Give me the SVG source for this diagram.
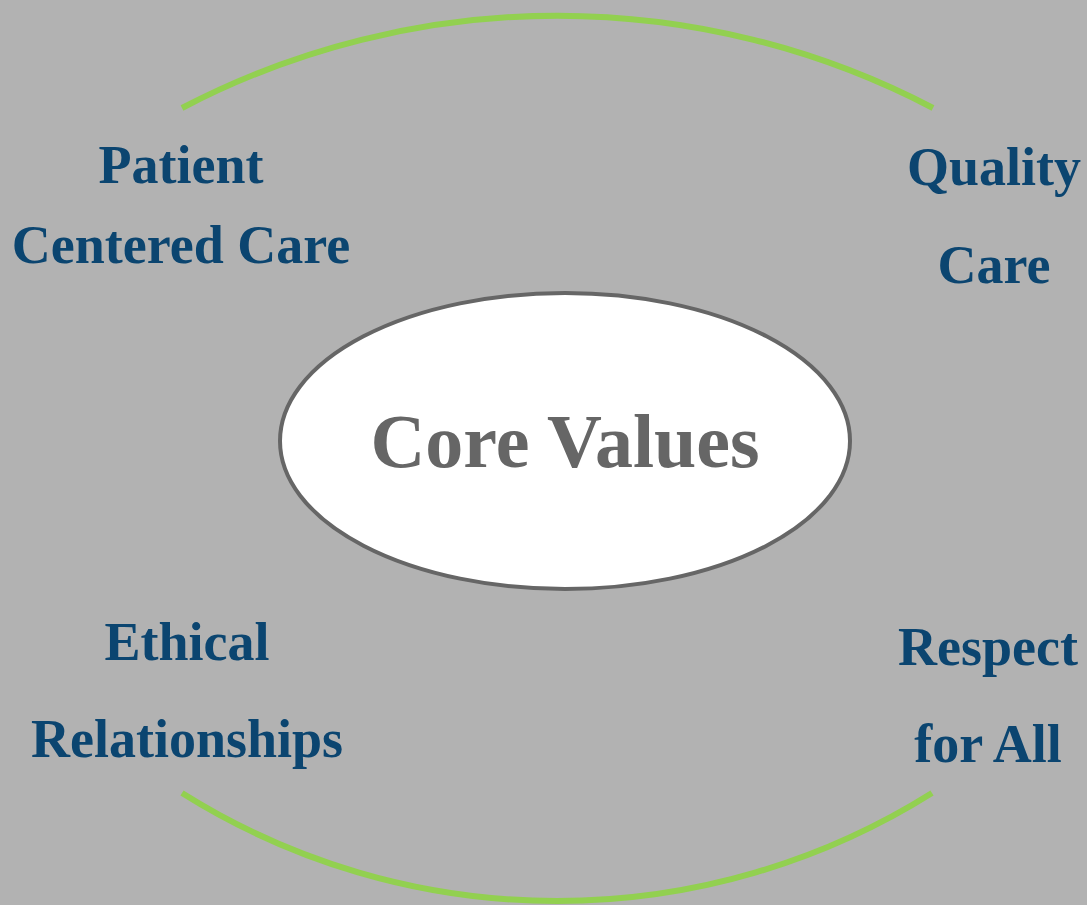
<svg xmlns="http://www.w3.org/2000/svg" width="1087" height="905" viewBox="0 0 1087 905">
<style>
.lbl{font-family:"Liberation Serif","Times New Roman",serif;font-weight:bold;font-size:54px;fill:#0b4570;text-anchor:middle}
.arc{fill:none;stroke:#92d050;stroke-width:6}
.core{font-family:"Liberation Serif","Times New Roman",serif;font-weight:bold;font-size:76px;fill:#666666;text-anchor:middle}
</style>
<rect width="1087" height="905" fill="#b2b2b2"/>
<g id="connectors">
<path class="arc" d="M182,108 A810,810 0 0 1 933,108"/>
<path class="arc" d="M182,793 A705,705 0 0 0 932,793"/>
</g>
<g id="core">
<ellipse cx="565" cy="441" rx="285" ry="148" fill="#ffffff" stroke="#666666" stroke-width="4"/>
<text class="core" x="565" y="467">Core Values</text>
</g>
<g id="patient">
<text class="lbl" x="181" y="183">Patient</text>
<text class="lbl" x="181" y="263">Centered Care</text>
</g>
<g id="quality">
<text class="lbl" x="994" y="185">Quality</text>
<text class="lbl" x="994" y="283">Care</text>
</g>
<g id="ethical">
<text class="lbl" x="187" y="660">Ethical</text>
<text class="lbl" x="187" y="757">Relationships</text>
</g>
<g id="respect">
<text class="lbl" x="988" y="665">Respect</text>
<text class="lbl" x="988" y="762">for All</text>
</g>
</svg>
